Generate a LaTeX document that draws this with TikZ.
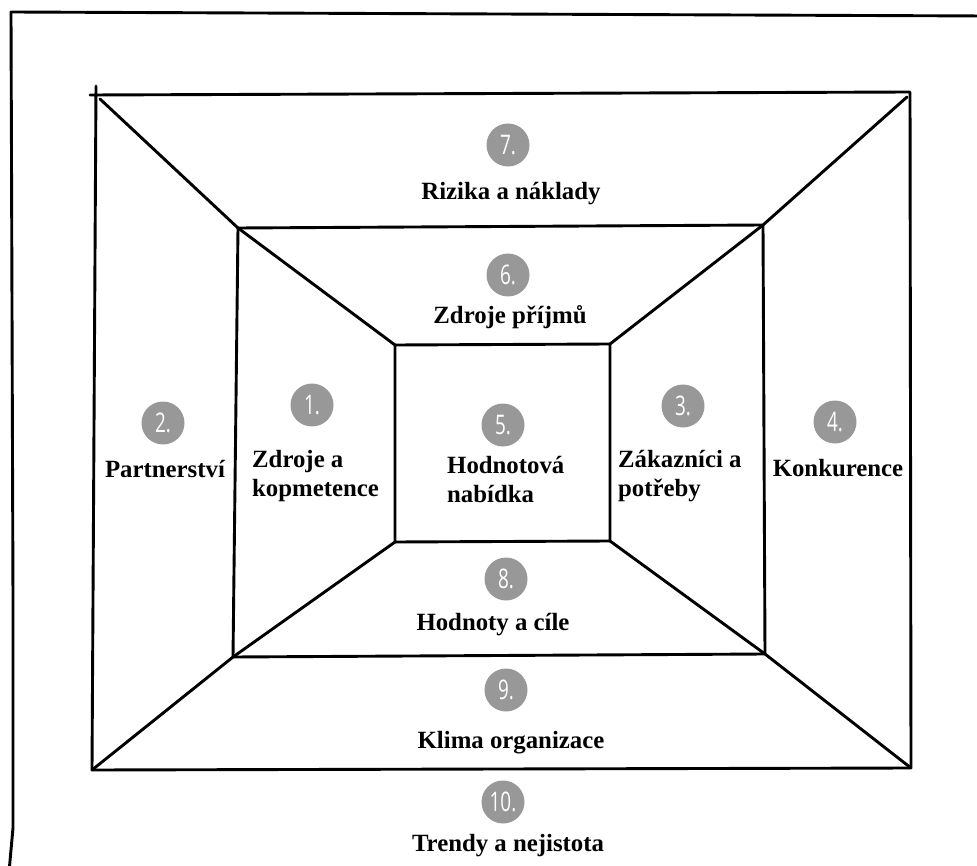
\documentclass[tikz,border=0pt]{standalone}
\usepackage{fontspec}
\setmainfont{Liberation Serif}
\newfontfamily\numfont{Open Sans}[FakeStretch=0.7]
\definecolor{numgray}{RGB}{152,152,152}
\begin{document}
\begin{tikzpicture}[x=1pt,y=-1pt,
  edge/.style={line width=2.9pt,line cap=round,line join=round},
  numc/.style={circle,fill=numgray,minimum size=43pt,inner sep=0pt,text=white,
    font=\numfont\fontsize{27}{27}\selectfont},
  lbl/.style={font=\bfseries\fontsize{24.8}{29}\selectfont,inner sep=0pt},
  lbltwo/.style={lbl,align=left,anchor=base west}]
\useasboundingbox (0,0) rectangle (977,866);
% outer frame
\coordinate (o1) at (11,12);
\coordinate (o2) at (985,16);
\coordinate (o3) at (13,600);
\coordinate (o4) at (13,828);
\coordinate (o5) at (9,872);
\draw[edge] (o2) -- (o1) -- (o3) -- (o4) -- (o5);
% big rectangle A
\coordinate (a1) at (96,95);
\coordinate (a2) at (910,92);
\coordinate (a3) at (911,768);
\coordinate (a4) at (92,770);
\coordinate (a1t) at (96,86);
\coordinate (a1l) at (90,95);
\draw[edge] (a1l) -- (a2) -- (a3) -- (a4) -- (a1t);
% middle rectangle B
\coordinate (b1) at (238,228);
\coordinate (b2) at (763,225);
\coordinate (b3) at (765,654);
\coordinate (b4) at (233,657);
\draw[edge] (b1) -- (b2) -- (b3) -- (b4) -- cycle;
% inner square C
\coordinate (c1) at (395,345);
\coordinate (c2) at (610,344);
\coordinate (c3) at (610,541);
\coordinate (c4) at (395,542);
\draw[edge] (c1) -- (c2) -- (c3) -- (c4) -- cycle;
% diagonals
\coordinate (a1d) at (100,99);
\coordinate (a2d) at (907,97);
\draw[edge] (a1d) -- (b1) -- (c1);
\draw[edge] (a2d) -- (b2) -- (c2);
\draw[edge] (a3) -- (b3) -- (c3);
\draw[edge] (a4) -- (b4) -- (c4);
% numbers
\node[numc] (n7) at (508,145) {7.};
\node[numc] (n6) at (508,275) {6.};
\node[numc] (n1) at (312,405) {1.};
\node[numc] (n2) at (163,423) {2.};
\node[numc] (n5) at (503,425) {5.};
\node[numc] (n3) at (683,406) {3.};
\node[numc] (n4) at (835,422) {4.};
\node[numc] (n8) at (506,579) {8.};
\node[numc] (n9) at (506,690) {9.};
\node[numc] (n10) at (503,802) {10.};
% labels
\node[lbl,anchor=base] (t7) at (511,200) {Rizika a náklady};
\node[lbl,anchor=base] (t6) at (510,324) {Zdroje příjmů};
\node[lbltwo] (t1) at (252,496) {Zdroje a\\kopmetence};
\node[lbl,anchor=base] (t2) at (165,477) {Partnerství};
\node[lbltwo] (t5) at (447,502) {Hodnotová\\nabídka};
\node[lbltwo] (t3) at (618,496) {Zákazníci a\\potřeby};
\node[lbl,anchor=base] (t4) at (838,476) {Konkurence};
\node[lbl,anchor=base] (t8) at (493,630) {Hodnoty a cíle};
\node[lbl,anchor=base] (t9) at (511,748) {Klima organizace};
\node[lbl,anchor=base] (t10) at (508,851) {Trendy a nejistota};
\end{tikzpicture}
\end{document}
